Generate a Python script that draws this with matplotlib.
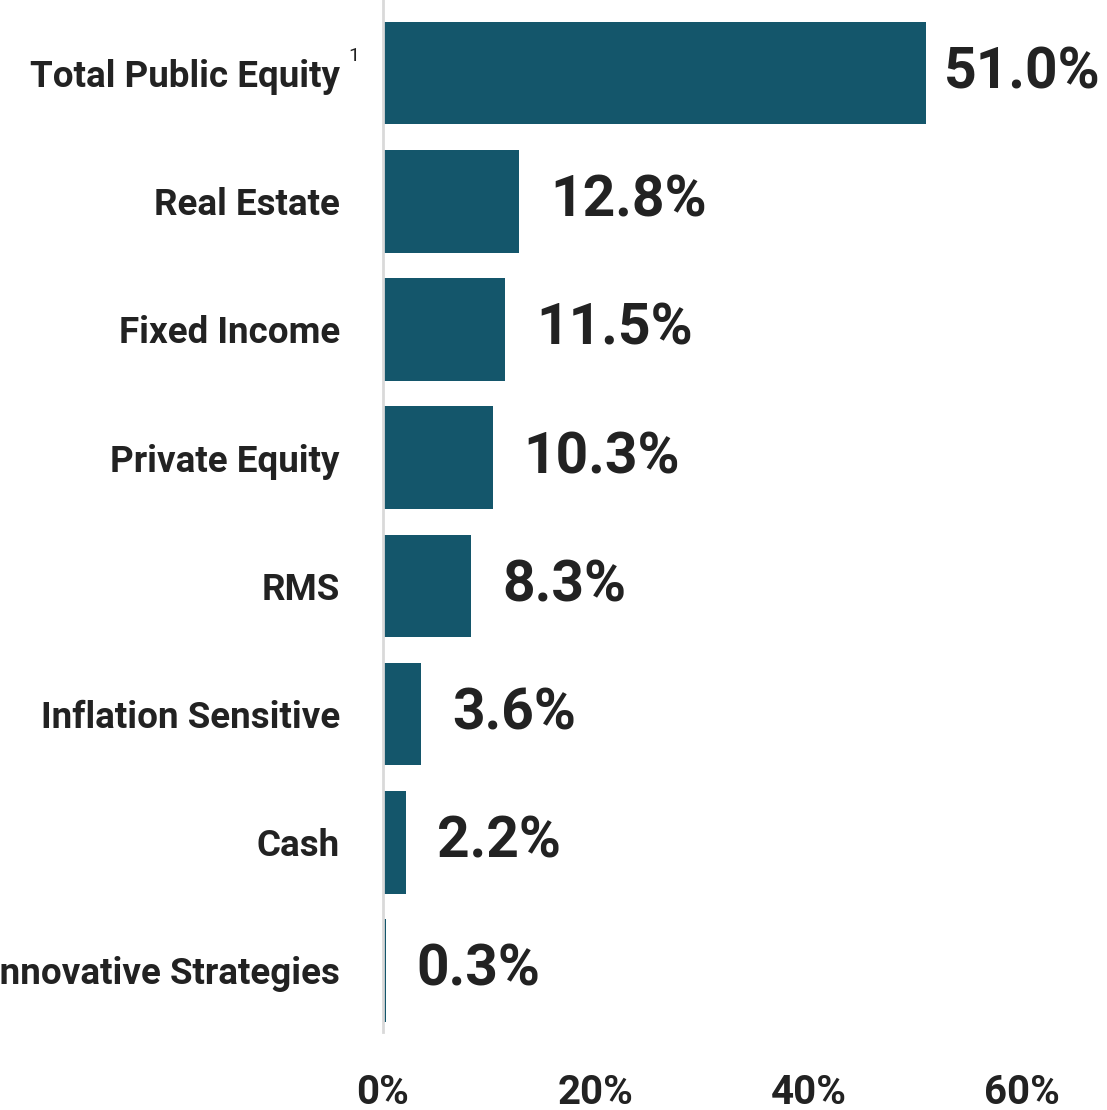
import matplotlib
matplotlib.use("Agg")
import matplotlib.pyplot as plt
from matplotlib.transforms import offset_copy

categories = ["Total Public Equity", "Real Estate", "Fixed Income", "Private Equity",
              "RMS", "Inflation Sensitive", "Cash", "Innovative Strategies"]
values = [51.0, 12.8, 11.5, 10.3, 8.3, 3.6, 2.2, 0.3]
value_labels = ["51.0%", "12.8%", "11.5%", "10.3%", "8.3%", "3.6%", "2.2%", "0.3%"]
xticks = [0, 20, 40, 60]
xtick_labels = ["0%", "20%", "40%", "60%"]

BAR = "#14566b"
TXT = "#222222"
plain = ["Roboto", "DejaVu Sans"]

fig = plt.figure(figsize=(11.07, 11.10), dpi=100)
ax = fig.add_axes([383/1107, 1 - 1032/1110, 1 - 383/1107, 1032/1110])

y = list(range(len(categories)))
ax.barh(y, values, height=0.8, color=BAR, zorder=2)
ax.set_ylim(7.48, -0.57)
ax.set_xlim(0, 68)

ax.set_yticks(y)
ax.set_yticklabels(categories, family=plain, fontsize=26.5, fontweight="bold", color=TXT)
ax.tick_params(axis="y", length=0, pad=31)
ax.set_xticks(xticks)
ax.set_xticklabels(xtick_labels, family=plain, fontsize=29, fontweight="bold", color=TXT)
ax.tick_params(axis="x", length=0, pad=30)

for s in ["top", "right", "bottom"]:
    ax.spines[s].set_visible(False)
ax.spines["left"].set_color("#d9d9d9")
ax.spines["left"].set_linewidth(2)

# superscript on first label
ax.text(-35 / (1022 - 383) * 60, -0.13, "1", fontsize=14, color=TXT,
        family=plain, ha="left", va="center", clip_on=False)

for i, (v, lab) in enumerate(zip(values, value_labels)):
    off = 13 if i == 0 else 22
    tr = offset_copy(ax.transData, fig=fig, x=off, y=0, units="points")
    ax.text(v, i, lab, transform=tr, ha="left", va="center", fontsize=41,
            fontweight="bold", family=plain, color=TXT)

fig.savefig("out.png", dpi=100)
